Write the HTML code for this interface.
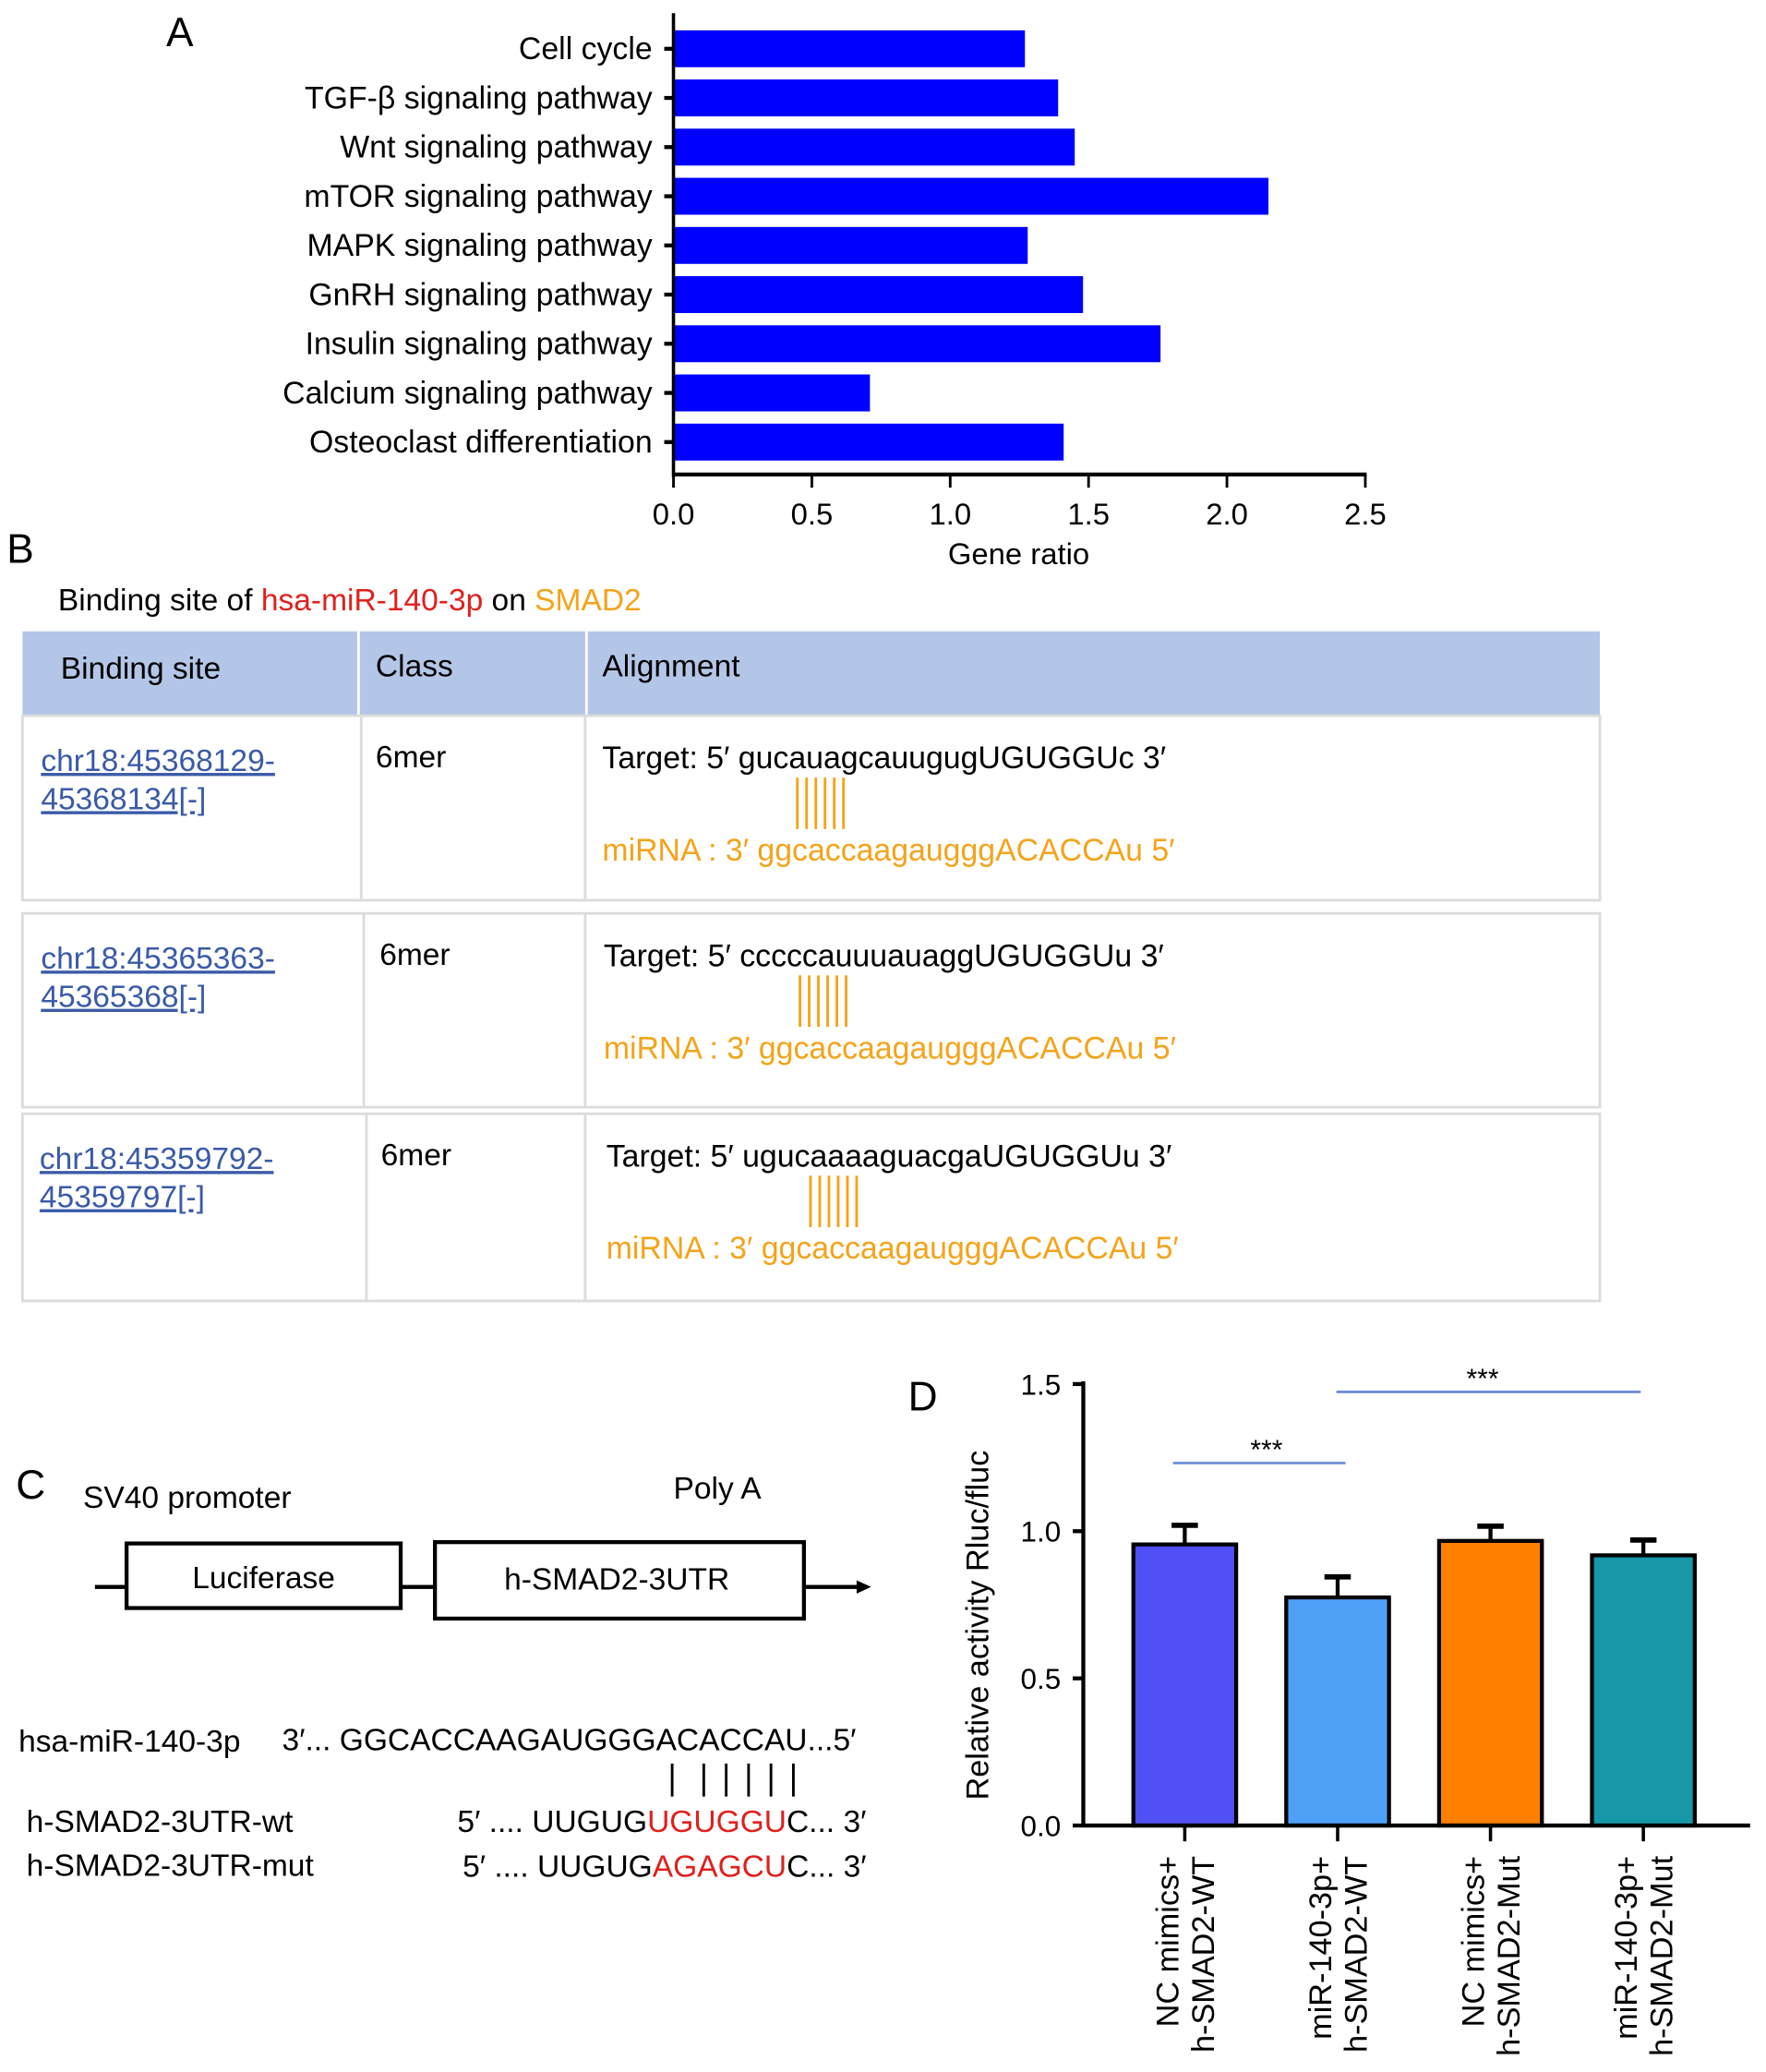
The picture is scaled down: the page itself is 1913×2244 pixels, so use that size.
<!DOCTYPE html>
<html><head><meta charset="utf-8"><style>
html,body{margin:0;padding:0;background:#fff;}
svg{display:block;font-family:"Liberation Sans",sans-serif;}
</style></head><body>
<svg id="fig" width="1913" height="2244" viewBox="0 0 1340 1572" xmlns="http://www.w3.org/2000/svg">
<g id="panelA">
<text x="126" y="35" font-size="31">A</text>
</g>
<g id="panelB">
<text x="5" y="427" font-size="31">B</text>
<text x="44" y="463" font-size="23.5">Binding site of <tspan fill="#e0201c">hsa-miR-140-3p</tspan> on <tspan fill="#f5a31a">SMAD2</tspan></text>
<rect x="17" y="479" width="1197" height="64" fill="#b4c6e7"/>
<text x="46" y="515" font-size="23.5">Binding site</text>
<text x="285" y="513" font-size="23.5">Class</text>
<text x="457" y="513" font-size="23.5">Alignment</text>
<line x1="272" y1="479" x2="272" y2="543" stroke="#fff" stroke-width="2"/>
<line x1="445" y1="479" x2="445" y2="543" stroke="#fff" stroke-width="2"/>
<g fill="none" stroke="#dcdcdc" stroke-width="2">
<rect x="17" y="543" width="1197" height="140"/>
<rect x="17" y="693" width="1197" height="147"/>
<rect x="17" y="845" width="1197" height="142"/>
<line x1="274" y1="543" x2="274" y2="683"/><line x1="444" y1="543" x2="444" y2="683"/>
<line x1="276" y1="693" x2="276" y2="840"/><line x1="444" y1="693" x2="444" y2="840"/>
<line x1="278" y1="845" x2="278" y2="987"/><line x1="444" y1="845" x2="444" y2="987"/>
</g>
<g id="rows"></g>
</g>
<g id="panelC">
<text x="12" y="1137" font-size="31">C</text>
<text x="63" y="1144" font-size="23.5">SV40 promoter</text>
<text x="511" y="1137" font-size="23.5">Poly A</text>
<line x1="72" y1="1204" x2="96" y2="1204" stroke="#000" stroke-width="3"/>
<rect x="96" y="1171" width="208" height="49" fill="#fff" stroke="#000" stroke-width="3"/>
<text x="200" y="1205" font-size="23.5" text-anchor="middle">Luciferase</text>
<line x1="304" y1="1204" x2="330" y2="1204" stroke="#000" stroke-width="3"/>
<rect x="330" y="1170" width="280" height="58" fill="#fff" stroke="#000" stroke-width="3"/>
<text x="468" y="1206" font-size="23.5" text-anchor="middle">h-SMAD2-3UTR</text>
<line x1="610" y1="1204" x2="652" y2="1204" stroke="#000" stroke-width="3"/>
<polygon points="650,1199 661,1204 650,1209" fill="#000"/>
<text x="14" y="1329" font-size="23.5">hsa-miR-140-3p</text>
<text x="214" y="1328" font-size="23.5">3′... GGCACCAAGAUGGGACACCAU...5′</text>
<g stroke="#000" stroke-width="2">
<line x1="510" y1="1338" x2="510" y2="1363"/><line x1="534" y1="1338" x2="534" y2="1363"/><line x1="551" y1="1338" x2="551" y2="1363"/><line x1="568" y1="1338" x2="568" y2="1363"/><line x1="585" y1="1338" x2="585" y2="1363"/><line x1="602" y1="1338" x2="602" y2="1363"/>
</g>
<text x="20" y="1390" font-size="23.5">h-SMAD2-3UTR-wt</text>
<text x="347" y="1390" font-size="23.5">5′  .... UUGUG<tspan fill="#e0201c">UGUGGU</tspan>C... 3′</text>
<text x="20" y="1423" font-size="23.5">h-SMAD2-3UTR-mut</text>
<text x="351" y="1424" font-size="23.5">5′  .... UUGUG<tspan fill="#e0201c">AGAGCU</tspan>C... 3′</text>
</g>
<g id="panelD">
<text x="689" y="1070" font-size="31">D</text>
<text transform="translate(750,1233) rotate(-90)" font-size="24" text-anchor="middle">Relative activity Rluc/fluc</text>
</g>
</svg>
<script>
const NS="http://www.w3.org/2000/svg";
function mk(parent,tag,attrs,text){const e=document.createElementNS(NS,tag);for(const k in attrs)e.setAttribute(k,attrs[k]);if(text!==undefined)e.textContent=text;parent.appendChild(e);return e;}

// Panel A data
const pathwayNames=["Cell cycle","TGF-β signaling pathway","Wnt signaling pathway","mTOR signaling pathway","MAPK signaling pathway","GnRH signaling pathway","Insulin signaling pathway","Calcium signaling pathway","Osteoclast differentiation"];
const geneRatios=[1.27,1.39,1.45,2.15,1.28,1.48,1.76,0.71,1.41];
const ratioTicks=["0.0","0.5","1.0","1.5","2.0","2.5"];

// Panel D data
const groupLabels1=["NC mimics+","miR-140-3p+","NC mimics+","miR-140-3p+"];
const groupLabels2=["h-SMAD2-WT","h-SMAD2-WT","h-SMAD2-Mut","h-SMAD2-Mut"];
const activityMeans=[0.955,0.775,0.967,0.918];
const activityErrors=[0.065,0.07,0.05,0.052];
const activityTicks=["0.0","0.5","1.0","1.5"];

// Panel A draw
(function(){
const g=document.getElementById('panelA');
const x0=511,pxU=210,top0=37,step=37.3,bh=28;
const xs=v=>x0+v*pxU, ys=i=>top0+i*step;
pathwayNames.forEach((n,i)=>{
 const r=mk(g,'rect',{x:x0,y:ys(i)-bh/2,width:xs(geneRatios[i])-x0,height:bh,fill:'#0000ff'});
 
 
 const t=mk(g,'text',{x:495,y:ys(i)+8,'font-size':23.7,'text-anchor':'end'},n);
 
 
 mk(g,'line',{x1:504,x2:511,y1:ys(i),y2:ys(i),stroke:'#000','stroke-width':3});
});
mk(g,'line',{x1:x0,x2:x0,y1:10,y2:362,stroke:'#000','stroke-width':2.5});
mk(g,'line',{x1:x0,x2:xs(2.5)+1,y1:360,y2:360,stroke:'#000','stroke-width':3});
ratioTicks.forEach(s=>{
 const v=parseFloat(s);
 mk(g,'line',{x1:xs(v),x2:xs(v),y1:360,y2:370,stroke:'#000','stroke-width':2});
 const t=mk(g,'text',{x:xs(v),y:398,'font-size':23,'text-anchor':'middle'},s);
 
 
});
const xt=mk(g,'text',{x:773,y:428,'font-size':23,'text-anchor':'middle'},'Gene ratio');


})();

// Panel B rows
(function(){
const g=document.getElementById('rows');
const rows=[
 {y:543,l1:"chr18:45368129-",l2:"45368134[-]",lx:31,cx:285,ax:457,t:"Target: 5′ gucauagcauugugUGUGGUc 3′",m:"miRNA   : 3′ ggcaccaagaugggACACCAu 5′",bx:605},
 {y:693,l1:"chr18:45365363-",l2:"45365368[-]",lx:31,cx:288,ax:458,t:"Target: 5′ cccccauuuauaggUGUGGUu 3′",m:"miRNA   : 3′ ggcaccaagaugggACACCAu 5′",bx:607},
 {y:845,l1:"chr18:45359792-",l2:"45359797[-]",lx:30,cx:289,ax:460,t:"Target: 5′ ugucaaaaguacgaUGUGGUu 3′",m:"miRNA   : 3′ ggcaccaagaugggACACCAu 5′",bx:615}];
rows.forEach((r,i)=>{
 const a=mk(g,'text',{x:r.lx,y:r.y+42,'font-size':23.5,fill:'#3a5aa8','text-decoration':'underline'});
 
 
 mk(a,'tspan',{x:r.lx,y:r.y+42},r.l1);mk(a,'tspan',{x:r.lx,y:r.y+71},r.l2);
 const c=mk(g,'text',{x:r.cx,y:r.y+39,'font-size':23.5},'6mer');
 
 
 const t=mk(g,'text',{x:r.ax,y:r.y+40,'font-size':23.7},r.t);
 
 
 for(let k=0;k<6;k++)mk(g,'line',{x1:r.bx+k*7,x2:r.bx+k*7,y1:r.y+47,y2:r.y+86,stroke:'#f5a31a','stroke-width':2});
 const m=mk(g,'text',{x:r.ax,y:r.y+110,'font-size':23.7,fill:'#f5a31a'},r.m);
 
 
});
})();

// Panel D draw
(function(){
const g=document.getElementById('panelD');
const x0=822,y0=1385,pxU=223.3,cx0=899,step=116,bw=78;
const ys=v=>y0-v*pxU, xs=i=>cx0+i*step;
const cols=['#5050f5','#4fa0f7','#ff7f00','#1797a8'];
activityMeans.forEach((v,i)=>{
 const x=xs(i);
 mk(g,'line',{x1:x,x2:x,y1:ys(v),y2:ys(v+activityErrors[i]),stroke:'#000','stroke-width':3});
 mk(g,'line',{x1:x-10,x2:x+10,y1:ys(v+activityErrors[i]),y2:ys(v+activityErrors[i]),stroke:'#000','stroke-width':4});
 const r=mk(g,'rect',{x:x-bw/2,y:ys(v),width:bw,height:y0-ys(v),fill:cols[i],stroke:'#000','stroke-width':3});
 
 
 mk(g,'line',{x1:x,x2:x,y1:y0,y2:y0+12,stroke:'#000','stroke-width':2.5});
 const t=mk(g,'text',{transform:`translate(${x},1408) rotate(-90)`,'font-size':24,'text-anchor':'end'});
 
 
 mk(t,'tspan',{x:0,y:-5},groupLabels1[i]);mk(t,'tspan',{x:0,y:22},groupLabels2[i]);
});
mk(g,'line',{x1:x0,x2:x0,y1:1048,y2:y0+1,stroke:'#000','stroke-width':3});
mk(g,'line',{x1:x0,x2:1328,y1:y0,y2:y0,stroke:'#000','stroke-width':3});
activityTicks.forEach(s=>{
 const v=parseFloat(s);
 mk(g,'line',{x1:x0-8,x2:x0,y1:ys(v),y2:ys(v),stroke:'#000','stroke-width':3});
 const t=mk(g,'text',{x:805,y:ys(v)+8,'font-size':22,'text-anchor':'end'},s);
 
 
});
mk(g,'line',{x1:890,x2:1021,y1:1110,y2:1110,stroke:'#6f8fd6','stroke-width':2});
mk(g,'text',{x:961,y:1107,'font-size':21,'text-anchor':'middle'},'***');
mk(g,'line',{x1:1014,x2:1245,y1:1056,y2:1056,stroke:'#6f8fd6','stroke-width':2});
mk(g,'text',{x:1125,y:1053,'font-size':21,'text-anchor':'middle'},'***');
})();
</script>
</body></html>
